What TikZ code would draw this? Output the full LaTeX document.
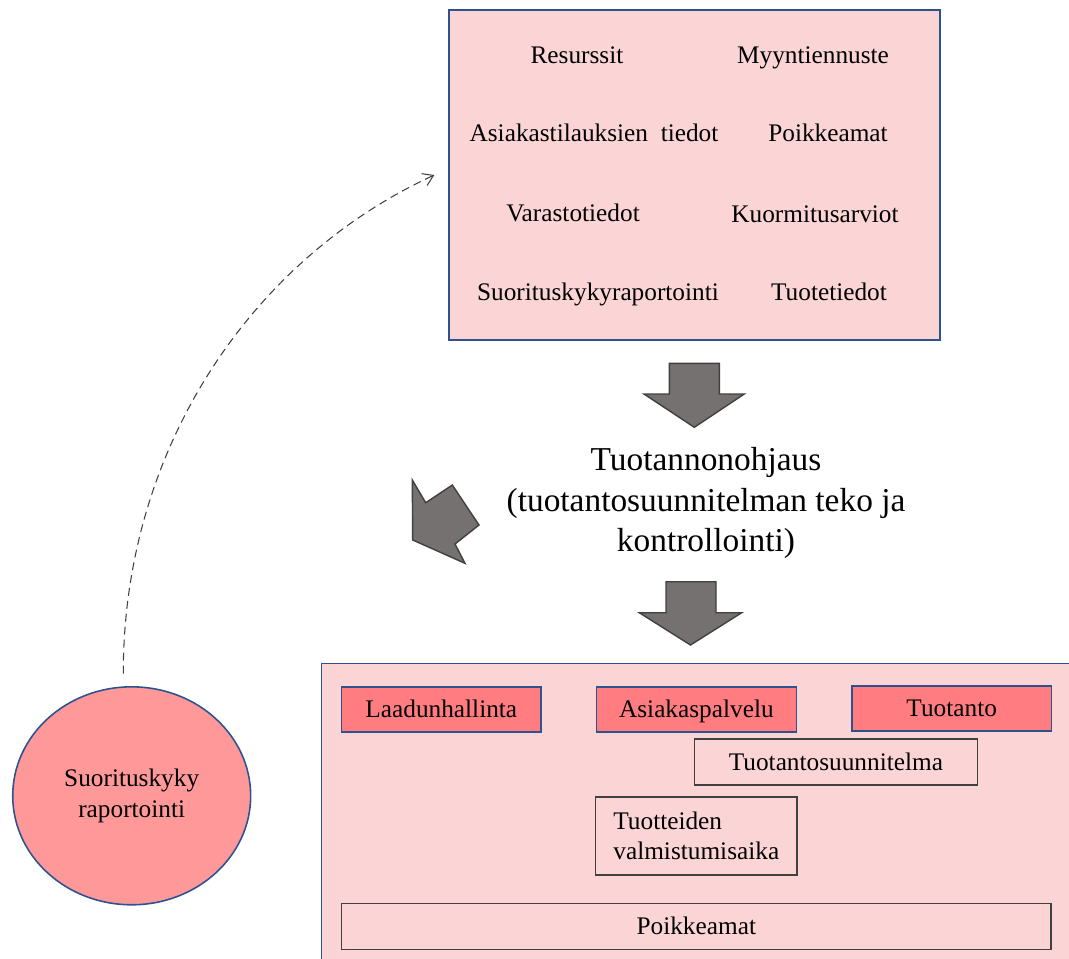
\documentclass[tikz,border=0pt]{standalone}
\usepackage{fontspec}
\setmainfont{Liberation Serif}
\usepackage{tikz}
\usetikzlibrary{arrows.meta,positioning,calc,shapes.geometric}
\definecolor{panelc}{HTML}{FBD5D5}
\definecolor{linec}{HTML}{2F528F}
\definecolor{redc}{HTML}{FF7C80}
\definecolor{circc}{HTML}{FF9999}
\definecolor{arrc}{HTML}{767171}
\definecolor{darkc}{HTML}{404040}
\tikzset{
  >={Straight Barb[length=2mm,width=2.6mm]},
  panel/.style={draw=linec,line width=0.8pt,fill=panelc,inner sep=0pt},
  oneline/.style={text height=12.5pt,text depth=3pt},
  item/.style={oneline,font=\fontsize{14.4}{17.3}\selectfont,inner sep=1pt},
  redbox/.style={oneline,draw=linec,line width=0.9pt,fill=redc,minimum width=4cm,minimum height=0.9cm,inner sep=1pt,font=\fontsize{14.4}{17.3}\selectfont},
  plainbox/.style={draw=darkc,line width=0.9pt,minimum height=0.92cm,inner sep=1pt,font=\fontsize{14.4}{17.3}\selectfont},
  blockarr/.style={fill=arrc,draw=darkc,line width=0.8pt,line join=miter},
  title/.style={font=\fontsize{19}{22.8}\selectfont,align=center},
  feedback/.style={->,draw=darkc,line width=0.6pt,dash pattern=on 1.6mm off 1mm},
}
\newcommand{\tieto}[3]{\node[item] (#1) at (#2) {#3};}

\begin{document}
\begin{tikzpicture}[x=0.02cm,y=-0.02cm]
  \clip (0,0) rectangle (1069,958);
  % lähtötiedot
  \node[panel,minimum width=9.82cm,minimum height=6.6cm] (info) at (694.5,175) {};
  \tieto{res}{577,55}{Resurssit}
  \tieto{myynti}{813,55}{Myyntiennuste}
  \tieto{tilaus}{594,133}{Asiakastilauksien\ \ tiedot}
  \tieto{poikk}{828,133}{Poikkeamat}
  \tieto{varasto}{573,213}{Varastotiedot}
  \tieto{kuorm}{815,214}{Kuormitusarviot}
  \tieto{suorit}{598,292}{Suorituskykyraportointi}
  \tieto{tuote}{829,292}{Tuotetiedot}
  % ohjaus
  \filldraw[blockarr] (669.3,363.3) -- (719.3,363.3) -- (719.3,394) -- (744.3,394)
    -- (694.3,427.3) -- (644,394) -- (669.3,394) -- cycle;
  \node[title] (ctrl) at (706,503) {Tuotannonohjaus\\(tuotantosuunnitelman teko ja\\kontrollointi)};
  \filldraw[blockarr] (412.3,480) -- (425.7,502.7) -- (452.3,485) -- (479,525)
    -- (455,544) -- (465,563.3) -- (412.7,540) -- cycle;
  \filldraw[blockarr] (666,581.7) -- (716,581.7) -- (716,612.7) -- (741.7,612.7)
    -- (690.5,645) -- (639.3,612.7) -- (666,612.7) -- cycle;
  % tulokset
  \node[panel,anchor=north west,minimum width=15.4cm,minimum height=6.4cm] (out) at (320.6,662.7) {};
  \node[redbox] (laatu) at (441.3,709.5) {Laadunhallinta};
  \node[redbox] (asiakas) at (696.4,709.5) {Asiakaspalvelu};
  \node[redbox] (tuotanto) at (951.7,708.3) {Tuotanto};
  \node[plainbox,oneline,minimum width=5.66cm] (suunn) at (835.9,761.8) {Tuotantosuunnitelma};
  \node[plainbox,minimum width=4.04cm,minimum height=1.56cm,align=left] (aika) at (696.3,836) {Tuotteiden\\valmistumisaika};
  \node[plainbox,oneline,minimum width=14.2cm] (poikk2) at (696.3,926.5) {Poikkeamat};
  % raportointi
  \node[ellipse,draw=linec,line width=0.9pt,fill=circc,minimum width=4.76cm,minimum height=4.36cm,
    align=center,font=\fontsize{14.4}{17.3}\selectfont] (rap) at (131.7,795.8) {Suorituskyky\\raportointi};
  \coordinate (fbs) at ($(rap.north)+(-8.4,-12.4)$);
  \coordinate (fbe) at ($(info.west)+(-14,0)$);
  \draw[feedback] (fbs) .. controls (123,450) and (250,260) .. (fbe);
\end{tikzpicture}
\end{document}
